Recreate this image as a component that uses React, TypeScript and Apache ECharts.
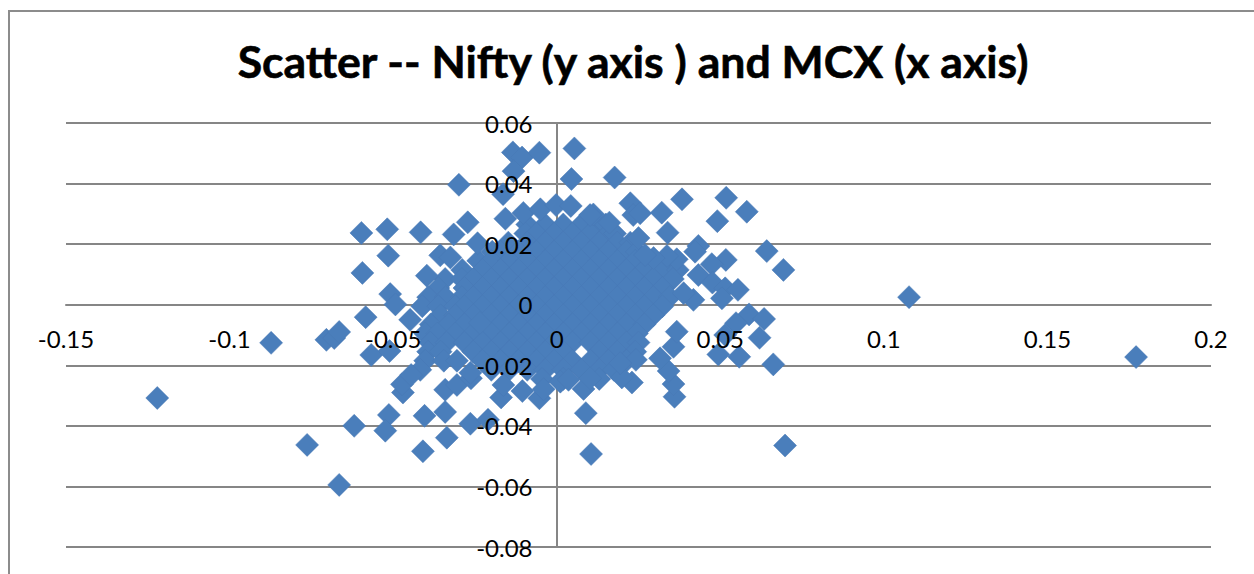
import React, { useEffect, useRef } from "react";
import * as echarts from "echarts";

const chartTitle = "Scatter -- Nifty (y axis ) and MCX (x axis)";
const xRange = [-0.15, 0.2];
const yRange = [-0.08, 0.06];

// [MCX, Nifty] points read from the outer part of the cloud
const farOutliers = [
  [0.1771, -0.0173], [0.1077, 0.0025], [-0.1221, -0.0308], [-0.0873, -0.0126], [-0.0763, -0.0463],
  [-0.0665, -0.0595], [-0.0619, -0.04], [-0.0704, -0.0116], [-0.068, -0.011], [-0.0665, -0.009],
  [0.0698, -0.0465], [0.0105, -0.0493],
];
const upperPoints = [
  [-0.0134, 0.0503], [-0.0106, 0.0486], [-0.0053, 0.0502], [0.0054, 0.0516], [0.0045, 0.0415],
  [-0.0132, 0.0441], [-0.0299, 0.0396], [-0.0164, 0.0365], [-0.0157, 0.0284], [-0.0102, 0.0303],
  [-0.005, 0.0315], [-0.0002, 0.0329], [0.0043, 0.0326], [0.0112, 0.0298], [0.0177, 0.042],
];
const leftPoints = [
  [-0.0597, 0.0237], [-0.0518, 0.0249], [-0.0416, 0.0239], [-0.0315, 0.0232], [-0.0272, 0.0272],
  [-0.0242, 0.0203], [-0.0515, 0.0162], [-0.0594, 0.0105], [-0.0356, 0.0163], [-0.0325, 0.0156],
  [-0.0397, 0.0096], [-0.0509, 0.0035], [-0.0493, 0.0001], [-0.0584, -0.0041], [-0.0567, -0.0166],
  [-0.0511, -0.0153], [-0.0448, -0.005],
];
const lowerPoints = [
  [-0.0513, -0.0364], [-0.0524, -0.0416], [-0.0404, -0.0367], [-0.0341, -0.0354], [-0.0264, -0.0393],
  [-0.021, -0.038], [-0.0336, -0.0439], [-0.0409, -0.0484], [-0.047, -0.029], [-0.0473, -0.0263],
  [-0.0445, -0.0232], [-0.0341, -0.0281], [-0.0305, -0.0265], [-0.0262, -0.0243], [-0.0264, -0.0225],
  [-0.017, -0.0306], [-0.0163, -0.0265], [-0.0105, -0.0285], [-0.0053, -0.0309], [-0.004, -0.0279],
  [0.0011, -0.0254], [0.0036, -0.0248], [0.0082, -0.0278], [0.0089, -0.0358], [0.023, -0.0257],
  [0.0199, -0.024], [0.0242, -0.0182], [0.0194, -0.0193], [0.0102, -0.0243], [0.036, -0.0304],
  [0.0357, -0.0262], [0.0342, -0.0219], [0.0316, -0.0177], [0.0357, -0.0139], [0.0367, -0.0089],
];
const rightPoints = [
  [0.0588, -0.0032], [0.0634, -0.0047], [0.0548, -0.0061], [0.062, -0.0109], [0.0515, -0.01],
  [0.0494, -0.0164], [0.0558, -0.0172], [0.0662, -0.0197], [0.0225, 0.0335], [0.0234, 0.0296],
  [0.0255, 0.0302], [0.0321, 0.0304], [0.0383, 0.0348], [0.0518, 0.0353], [0.0581, 0.0307],
  [0.0491, 0.0276], [0.0339, 0.0238], [0.025, 0.022], [0.0433, 0.0194], [0.0423, 0.0175],
  [0.0642, 0.0177], [0.0693, 0.0115], [0.0517, 0.0148], [0.0474, 0.0134], [0.0433, 0.0098],
  [0.0476, 0.0073], [0.0515, 0.0054], [0.0554, 0.0049], [0.0505, 0.0021], [0.0418, 0.0016],
  [0.0388, 0.0038], [0.0367, 0.015], [0.0337, 0.0161], [0.0296, 0.0154], [0.027, 0.0164],
  [0.0161, 0.0271], [0.0102, 0.0296], [-0.0235, -0.006],
];

// Dense centre of the cloud, estimated band by band: [Nifty, MCX values in that band]
const coreBands: [number, number[]][] = [
  [0.0265, [-0.009, -0.0035, 0.002, 0.0075, 0.013, 0.015]],
  [0.0235, [-0.0096, -0.0062, -0.0008, 0.0048, 0.0103, 0.0158, 0.0178]],
  [0.0205, [-0.0148, -0.009, -0.0035, 0.002, 0.0075, 0.013, 0.0185, 0.0225]],
  [0.0175, [-0.0197, -0.0172, -0.0117, -0.0062, -0.0008, 0.0048, 0.0103, 0.0158, 0.0213, 0.0245]],
  [0.0145, [-0.024, -0.02, -0.0145, -0.009, -0.0035, 0.002, 0.0075, 0.013, 0.0185, 0.024, 0.0295, 0.035]],
  [0.0115, [-0.0289, -0.0227, -0.0172, -0.0117, -0.0062, -0.0008, 0.0048, 0.0103, 0.0158, 0.0213, 0.0268, 0.0323, 0.037]],
  [0.0085, [-0.0341, -0.029, -0.0255, -0.02, -0.0145, -0.009, -0.0035, 0.002, 0.0075, 0.013, 0.0185, 0.024, 0.0295, 0.0355]],
  [0.0055, [-0.0362, -0.0282, -0.0227, -0.0172, -0.0117, -0.0062, -0.0008, 0.0048, 0.0103, 0.0158, 0.0213, 0.0268, 0.0323]],
  [0.0025, [-0.0393, -0.034, -0.029, -0.0255, -0.02, -0.0145, -0.009, -0.0035, 0.002, 0.0075, 0.013, 0.0185, 0.024, 0.0295, 0.0345]],
  [-0.0005, [-0.0411, -0.0362, -0.031, -0.0282, -0.0227, -0.0172, -0.0117, -0.0062, -0.0008, 0.0048, 0.0103, 0.0158, 0.0213, 0.0268, 0.0323]],
  [-0.0035, [-0.0355, -0.031, -0.0255, -0.02, -0.0145, -0.009, -0.0035, 0.002, 0.0075, 0.013, 0.0185, 0.024, 0.0295]],
  [-0.0065, [-0.0385, -0.033, -0.0282, -0.0172, -0.0117, -0.0062, -0.0008, 0.0048, 0.0103, 0.0158, 0.0213, 0.0268]],
  [-0.0095, [-0.0402, -0.0365, -0.031, -0.0255, -0.02, -0.0145, -0.009, -0.0035, 0.002, 0.0075, 0.013, 0.0185, 0.0245]],
  [-0.0125, [-0.0387, -0.0337, -0.0282, -0.0227, -0.0172, -0.0117, -0.0062, -0.0008, 0.0048, 0.0103, 0.0158, 0.0213, 0.025]],
  [-0.0155, [-0.0393, -0.0355, -0.0255, -0.02, -0.0145, -0.009, -0.0035, 0.002, 0.013, 0.0185, 0.024]],
  [-0.0185, [-0.0402, -0.0345, -0.0305, -0.0227, -0.0172, -0.0117, -0.0062, -0.0008, 0.0048, 0.0103, 0.0158, 0.0213]],
  [-0.0215, [-0.0417, -0.02, -0.0145, -0.009, -0.0035, 0.002, 0.0075, 0.013, 0.0175]],
  [-0.0245, [-0.0045, 0.002, 0.013]],
];

const corePoints = coreBands.flatMap(([nifty, mcxValues]) => mcxValues.map((mcx) => [mcx, nifty]));
const allPoints = [...corePoints, ...upperPoints, ...leftPoints, ...lowerPoints, ...rightPoints, ...farOutliers];

const GRID = "#868686";
const FONT = "Lato, sans-serif";

export default function App() {
  const ref = useRef<HTMLDivElement>(null);
  useEffect(() => {
    document.body.style.margin = "0";
    const chart = echarts.init(ref.current!, undefined, { renderer: "svg" });
    const labelOnly = {
      axisLine: { show: false, onZero: false },
      axisTick: { show: false },
      splitLine: { show: false },
      z: 10,
    };
    chart.setOption({
      animation: false,
      backgroundColor: "#ffffff",
      title: {
        text: chartTitle,
        left: 628,
        top: 33,
        textAlign: "center",
        textStyle: {
          fontFamily: FONT, fontSize: 44.6, fontWeight: "bold", color: "#000000",
          textBorderColor: "#000000", textBorderWidth: 0.6,
        },
      },
      grid: { left: 66, right: 43, top: 123, bottom: 27 },
      xAxis: [
        {
          type: "value", min: xRange[0], max: xRange[1], interval: 0.05,
          axisLine: { onZero: true, lineStyle: { color: GRID, width: 2 } },
          axisTick: { show: false }, axisLabel: { show: false }, splitLine: { show: false },
        },
        {
          ...labelOnly, type: "value", position: "bottom", offset: -242,
          min: xRange[0], max: xRange[1], interval: 0.05,
          axisLabel: { fontFamily: FONT, fontSize: 24, color: "#000000", margin: 21 },
        },
      ],
      yAxis: [
        {
          type: "value", min: yRange[0], max: yRange[1], interval: 0.02,
          axisLine: { onZero: true, lineStyle: { color: GRID, width: 2 } },
          axisTick: { show: false }, axisLabel: { show: false },
          splitLine: { show: true, lineStyle: { color: GRID, width: 2 } },
        },
        {
          ...labelOnly, type: "value", position: "left", offset: -490.5,
          min: yRange[0], max: yRange[1], interval: 0.02,
          axisLabel: { fontFamily: FONT, fontSize: 24, color: "#000000", margin: 24 },
        },
      ],
      graphic: [
        {
          type: "polyline", silent: true,
          shape: { points: [[9, 574], [9, 11], [1254, 11]] },
          style: { stroke: "#8c8c8c", lineWidth: 2, fill: "none" },
        },
      ],
      series: [
        {
          type: "scatter",
          xAxisIndex: 0,
          yAxisIndex: 0,
          symbol: "diamond",
          symbolSize: 23,
          itemStyle: { color: "#4a7ebb", opacity: 1, borderColor: "#4879b5", borderWidth: 0.5 },
          data: allPoints,
        },
      ],
    });
    return () => chart.dispose();
  }, []);
  return <div ref={ref} style={{ width: 1254, height: 574 }} />;
}
